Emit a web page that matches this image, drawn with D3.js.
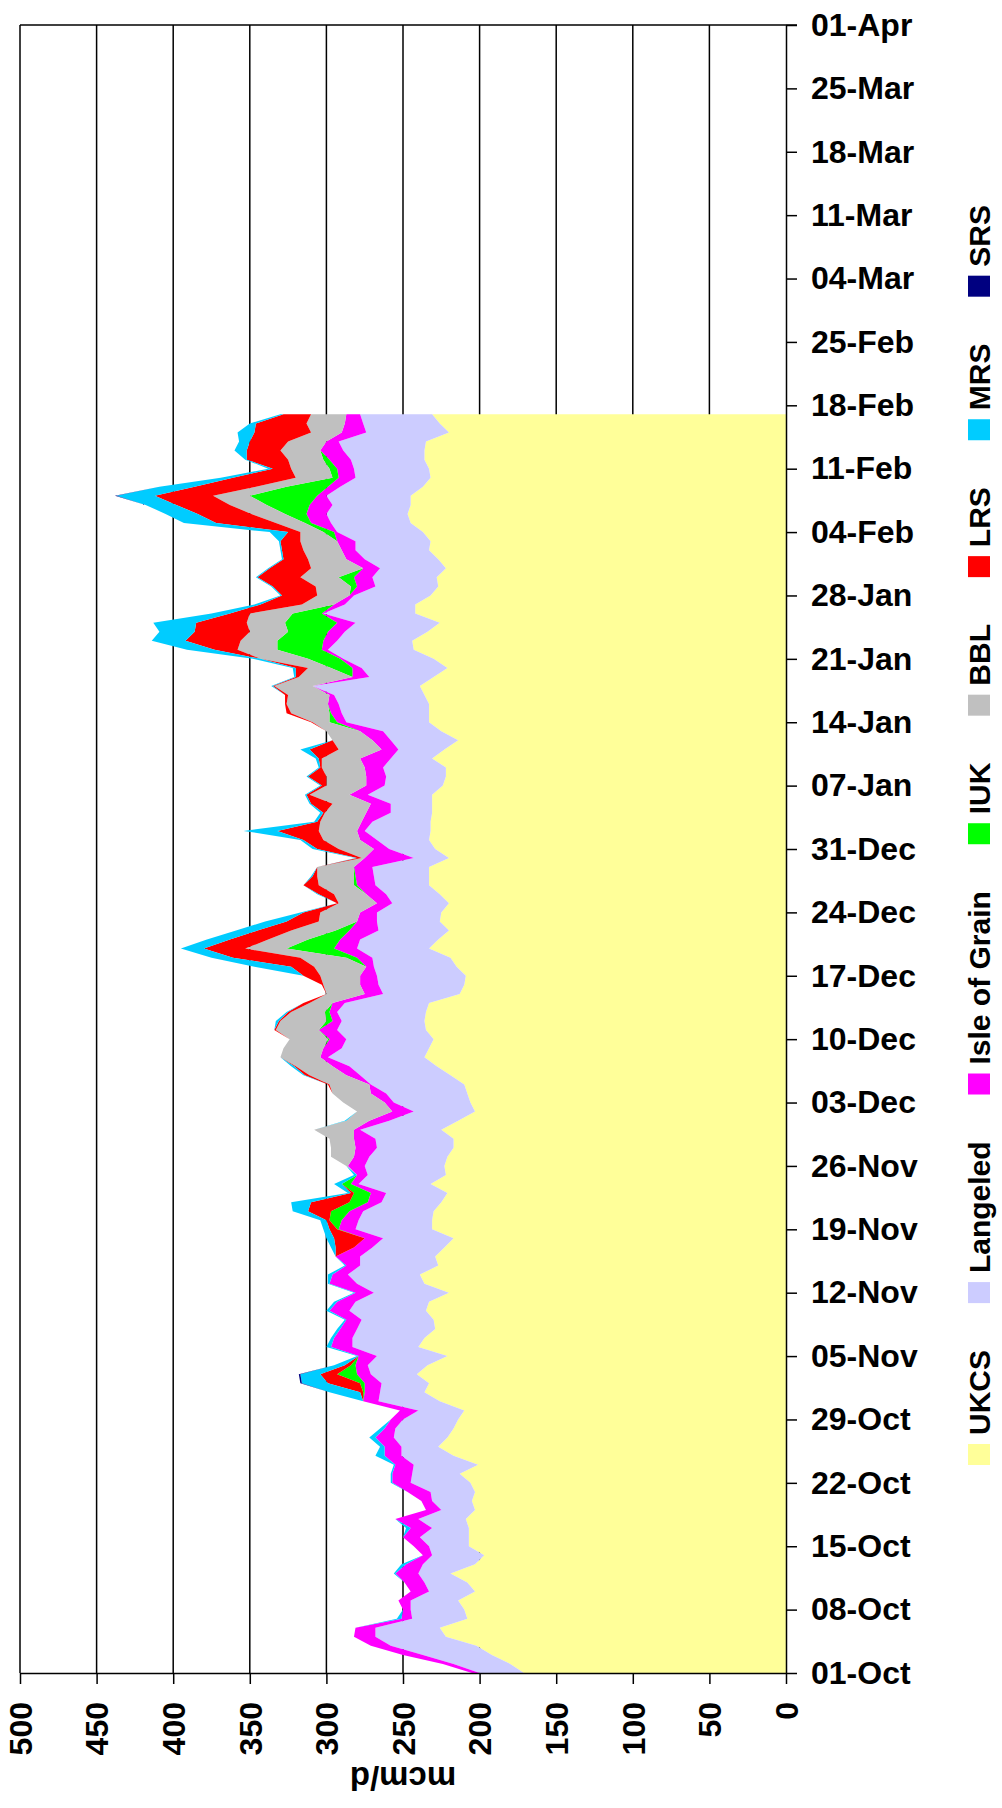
<!DOCTYPE html>
<html>
<head>
<meta charset="utf-8">
<script src="https://cdnjs.cloudflare.com/ajax/libs/d3/7.8.5/d3.min.js"></script>
<style>
  body { margin: 0; background: #fff; }
  text { font-family: "Liberation Sans", Arial, sans-serif; font-weight: bold; fill: #000; }
</style>
</head>
<body>
<div id="chart"></div>
<script>
// one point per gas day, 01-Oct-2006 .. 17-Feb-2007 (mcm/d)
var startDay = new Date(2006, 9, 1),
    endDay = new Date(2007, 3, 1);

var ukcs = [171,180,192,202,222,226,208,210,214,203, 208,219,203,197,207,207,207,209,203,205,
            203,206,213,201,217,227,221,217,214,210, 226,236,233,241,234,221,240,236,229,230,
            235,233,220,236,239,227,229,223,217,231, 231,230,225,221,232,222,223,221,217,217,
            225,214,203,206,208,210,219,228,236,233, 230,235,236,235,233,213,210,209,215,219,
            233,227,220,226,225,220,226,233,233,233, 220,229,233,232,232,231,231,231,224,222,
            222,231,223,214,225,233,233,233,236,239, 230,221,230,243,244,234,226,242,242,232,
            227,228,222,227,233,232,237,245,247,245, 245,237,232,233,236,236,235,220,226,231];
var langeled = [29,37,45,56,46,42,36,35,31,30, 28,21,34,34,26,32,24,31,22,26,
                29,39,31,42,34,24,35,38,36,30, 40,29,31,30,39,46,43,47,51,47,
                50,48,49,44,47,51,49,47,46,50, 48,46,39,40,47,51,52,51,50,51,
                53,45,40,50,53,61,59,57,63,57, 57,58,54,58,55,50,56,58,54,51,
                47,51,46,41,42,37,35,35,36,37, 23,30,34,43,38,27,27,42,38,39,
                41,27,30,44,38,54,57,59,59,70, 42,56,59,56,49,54,55,60,46,50,
                41,42,43,48,48,49,56,52,53,51, 55,54,49,49,48,53,57,54,50,47];
var isleOfGrain = [5,7,13,13,14,13,7,5,8,12, 13,15,11,6,10,11,14,15,10,7,
                   15,12,13,12,11,11,12,7,8,12, 10,10,11,9,8,12,14,12,11,10,
                   13,12,12,18,10,9,16,12,12,11, 11,9,9,10,5,7,11,10,14,14,
                   4,13,14,6,10,1,9,11,5,12, 11,12,6,5,8,12,12,11,5,10,
                   15,13,19,13,11,10,13,12,12,12, 32,10,11,5,7,16,13,12,12,13,
                   12,20,11,12,15,6,7,7,3,0, 11,6,2,4,9,11,12,1,7,3,
                   12,12,11,12,9,12,2,13,13,15, 6,8,11,11,14,15,8,16,12,9];
var iuk = [0,0,0,0,0,0,0,0,0,0, 0,0,0,0,0,0,0,0,0,0,
           0,0,0,0,0,0,0,0,0,0, 0,1,3,13,3,0,0,0,0,0,
           0,0,0,0,0,0,0,0,0,1, 8,12,12,11,6,0,0,0,0,0,
           0,0,0,0,0,0,0,0,0,0, 1,0,4,3,0,0,0,0,0,7,
           31,21,9,0,0,0,0,2,1,0, 0,0,0,0,0,0,0,0,0,0,
           0,0,0,0,0,5,1,0,0,0, 0,14,21,29,30,26,34,19,0,0,
           4,10,0,0,0,0,7,4,14,28, 44,27,4,5,4,0,0,0,0,0];
var bbl = [0,0,0,0,0,0,0,0,0,0, 0,0,0,0,0,0,0,0,0,0,
           0,0,0,0,0,0,0,0,0,0, 0,0,0,0,0,0,0,0,0,0,
           0,0,0,0,0,0,0,0,0,0, 0,0,0,0,0,0,1,15,16,16,
           26,15,23,27,25,26,24,24,26,26, 25,28,30,22,15,25,24,26,34,30,
           27,26,29,25,26,25,21,23,24,24, 2,23,24,25,27,27,25,26,26,26,
           28,25,28,26,22,11,25,27,27,25, 35,15,31,26,24,25,25,28,21,21,
           23,25,34,25,25,24,15,19,22,24, 24,20,24,25,23,26,25,20,25,23];
var lrs = [0,0,0,0,0,0,0,0,0,0, 0,0,0,0,0,0,0,0,0,0,
           0,0,0,0,0,0,0,0,0,0, 0,2,21,11,4,0,0,0,0,0,
           0,0,0,0,0,0,0,12,20,5, 2,15,25,2,0,0,0,0,0,0,
           0,0,0,0,0,1,3,1,0,0, 0,1,1,2,4,0,1,11,15,44,
           27,25,22,21,11,1,10,10,3,0, 3,14,13,27,2,1,14,2,3,12,
           1,2,19,0,0,1,3,1,2,1, 2,8,0,15,36,36,33,13,27,23,
           28,28,27,16,14,13,8,39,35,35, 38,40,41,12,27,22,25,37,33,18];
var mrs = [0,0,0,0,0,0,3,0,0,0, 0,1,3,0,0,0,3,0,0,0,
           0,1,1,1,6,3,4,3,0,0, 0,20,17,13,7,1,3,2,2,1,
           2,2,1,1,3,1,0,3,5,4, 4,10,13,2,5,2,0,0,0,0,
           0,1,0,0,0,0,1,2,0,0, 0,0,2,1,0,0,0,0,24,14,
           15,15,14,14,2,0,1,0,1,0, 1,3,2,22,2,2,1,1,1,1,
           1,2,6,0,0,0,0,0,0,1, 1,2,5,18,22,23,28,12,4,1,
           1,1,1,1,1,1,12,21,21,20, 25,23,8,3,1,8,7,11,4,2];
var srs = [0,0,0,0,0,0,0,0,0,0, 0,0,0,0,0,0,0,0,0,0,
           0,0,0,0,0,0,0,0,0,0, 0,0,1,1,0,0,0,0,0,0,
           0,0,0,0,0,0,0,0,0,0, 0,0,0,0,0,0,0,0,0,0,
           0,0,0,0,0,0,0,0,0,0, 0,0,0,0,0,0,0,0,0,0,
           0,0,0,0,0,0,0,0,0,0, 0,0,0,0,0,0,0,0,0,0,
           0,0,0,0,0,0,0,0,0,0, 0,0,0,0,0,0,0,0,0,0,
           0,0,0,0,0,0,0,0,0,0, 1,0,0,0,0,0,0,0,0,0];

var seriesNames = ["UKCS", "Langeled", "Isle of Grain", "IUK", "BBL", "LRS", "MRS", "SRS"];
var seriesColors = ["#FFFF99", "#CCCCFF", "#FF00FF", "#00FF00", "#C0C0C0", "#FF0000", "#00CCFF", "#000080"];
var valueTicks = [0, 50, 100, 150, 200, 250, 300, 350, 400, 450, 500];

var seriesValues = [ukcs, langeled, isleOfGrain, iuk, bbl, lrs, mrs, srs];

// set the dimensions and margins of the graph
var margin = {top: 25, right: 216, bottom: 135, left: 20},
    width = 1002 - margin.left - margin.right,
    height = 1808 - margin.top - margin.bottom;

var svg = d3.select("#chart")
  .append("svg")
    .attr("width", 1002)
    .attr("height", 1808);

var canvas = svg.append("g")
    .attr("transform", "translate(" + margin.left + "," + margin.top + ")");

var rows = ukcs.map(function(v, i) {
  var row = {date: d3.timeDay.offset(startDay, i)};
  seriesNames.forEach(function(name, k) { row[name] = seriesValues[k][i]; });
  return row;
});

var stacked = d3.stack().keys(seriesNames)(rows);

// value axis runs right -> left, dates run bottom -> top
var x = d3.scaleLinear().domain([0, 500]).range([width, 0]);
var y = d3.scaleTime().domain([startDay, endDay]).range([height, 0]);

// gridlines
canvas.selectAll("line.grid")
  .data(valueTicks.filter(function(v) { return v > 0; }))
  .enter()
  .append("line")
    .attr("x1", function(d) { return x(d); })
    .attr("x2", function(d) { return x(d); })
    .attr("y1", 0)
    .attr("y2", height)
    .attr("stroke", "#000")
    .attr("stroke-width", 1.5);

// stacked areas
var area = d3.area()
    .y(function(d) { return y(d.data.date); })
    .x0(function(d) { return x(d[0]); })
    .x1(function(d) { return x(d[1]); });

canvas.selectAll("path.layer")
  .data(stacked)
  .enter()
  .append("path")
    .attr("d", area)
    .attr("fill", function(d, i) { return seriesColors[i]; });

// top border
canvas.append("line")
    .attr("x1", 0).attr("x2", width + 11)
    .attr("y1", 0).attr("y2", 0)
    .attr("stroke", "#000").attr("stroke-width", 1.5);

// date axis on the right
var tickDates = d3.range(27).map(function(i) { return d3.timeDay.offset(startDay, 7 * i); });

var dateAxis = canvas.append("g")
    .attr("transform", "translate(" + width + ",0)")
    .call(d3.axisRight(y)
      .tickValues(tickDates)
      .tickFormat(d3.timeFormat("%d-%b"))
      .tickSize(11)
      .tickSizeOuter(0)
      .tickPadding(14));

dateAxis.selectAll("path, line").attr("stroke", "#000").attr("stroke-width", 1.5);
dateAxis.selectAll("text")
    .style("font-size", "32px")
    .style("font-family", "'Liberation Sans', Arial, sans-serif")
    .style("font-weight", "bold")
    .attr("fill", "#000");

// value axis at the bottom
var valueAxis = canvas.append("g")
    .attr("transform", "translate(0," + height + ")")
    .call(d3.axisBottom(x)
      .tickValues(valueTicks)
      .tickSize(11)
      .tickSizeOuter(0));

valueAxis.selectAll("path, line").attr("stroke", "#000").attr("stroke-width", 1.5);
valueAxis.selectAll("text")
    .attr("transform", "rotate(-90)")
    .attr("text-anchor", "end")
    .attr("x", -29)
    .attr("y", 0)
    .attr("dy", "0.35em")
    .attr("fill", "#000")
    .style("font-size", "32px")
    .style("font-family", "'Liberation Sans', Arial, sans-serif")
    .style("font-weight", "bold");

// axis title
canvas.append("text")
    .attr("transform", "translate(" + (width / 2) + "," + (height + 94) + ") rotate(180)")
    .attr("text-anchor", "middle")
    .style("font-size", "33px")
    .text("mcm/d");

// legend, read bottom to top
var legend = svg.append("g");
var legendX = 979, swatch = 21, gapIn = 9;
var items = seriesNames.map(function(name, i) {
  var t = legend.append("text")
      .attr("text-anchor", "start")
      .attr("dy", "0.35em")
      .style("font-size", "30px")
      .text(name);
  return {text: t, len: t.node().getComputedTextLength(), color: seriesColors[i]};
});
var used = d3.sum(items, function(d) { return d.len + swatch + gapIn; });
var gapOut = (1465 - 205 - used) / (items.length - 1);
var cursor = 1465;
items.forEach(function(d) {
  legend.append("rect")
      .attr("x", legendX - 11)
      .attr("y", cursor - swatch)
      .attr("width", 22)
      .attr("height", swatch)
      .attr("fill", d.color);
  cursor -= swatch + gapIn;
  d.text.attr("transform", "translate(" + legendX + "," + cursor + ") rotate(-90)");
  cursor -= d.len + gapOut;
});
</script>
</body>
</html>
